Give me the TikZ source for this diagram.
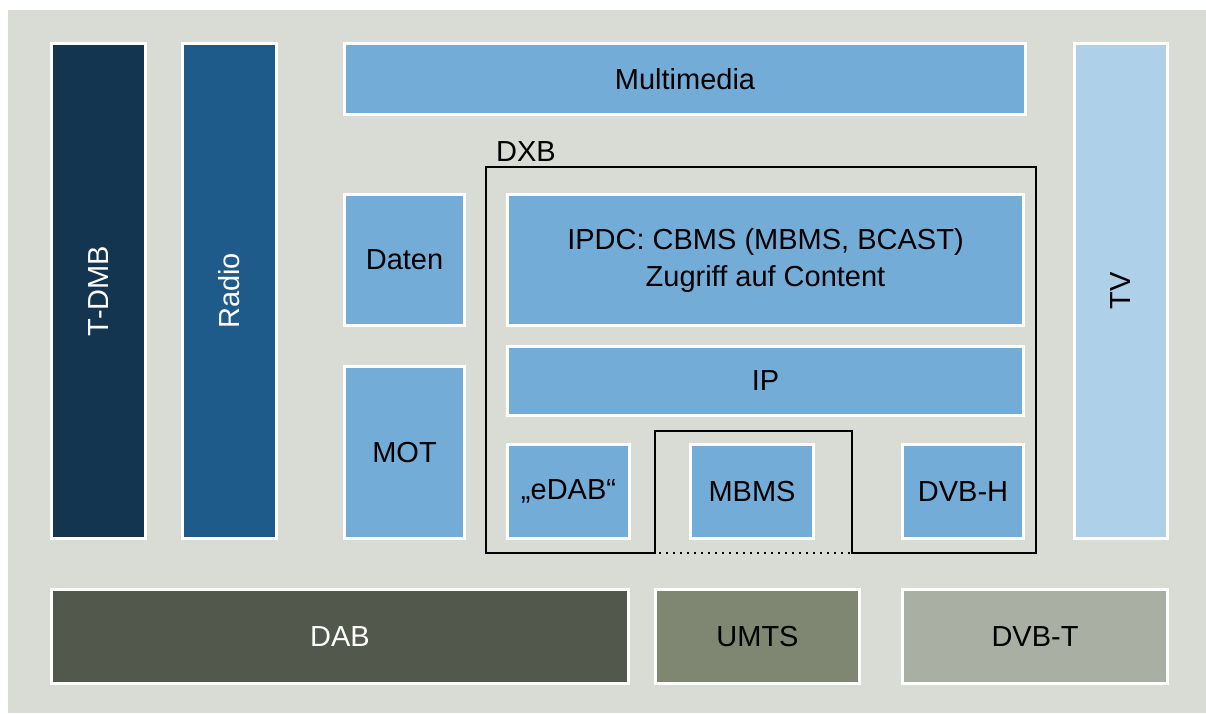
\documentclass[tikz,border=0pt]{standalone}
\usepackage{fontspec}
\setmainfont{Liberation Sans}
\definecolor{bgc}{HTML}{D9DBD5}
\definecolor{navy}{HTML}{143550}
\definecolor{midblue}{HTML}{1F5B8A}
\definecolor{skyblue}{HTML}{74ACD8}
\definecolor{paleblue}{HTML}{AED0E9}
\definecolor{darkolive}{HTML}{52584B}
\definecolor{midolive}{HTML}{7F8672}
\definecolor{lightolive}{HTML}{AAAFA4}
\tikzset{
  blk/.style={draw=white, line width=3pt, inner sep=0pt, outer sep=0pt,
    align=center, font=\fontsize{29}{37}\selectfont},
  vtext/.style={rotate=90},
}
% block from corner (x1,y1) to (x2,y2), pixel-like units, y downward
\newcommand{\blkat}[7]{%
  \pgfmathsetmacro{\bw}{#4-#2-3}\pgfmathsetmacro{\bh}{#5-#3-3}%
  \node[blk, #6, minimum width=\bw pt, minimum height=\bh pt]
    (#1) at ({(#2+#4)/2},{(#3+#5)/2}) {#7};}
\begin{document}
\begin{tikzpicture}[x=1pt,y=-1pt]
\useasboundingbox (0,0) rectangle (1206,713);
\fill[bgc] (8,10) rectangle (1206,713);

% vertical columns
\blkat{tdmb}{50}{42}{147}{540}{fill=navy, text=white}{\rotatebox{90}{T-DMB}}
\blkat{radio}{181}{42}{278}{540}{fill=midblue, text=white}{\rotatebox{90}{Radio}}
\blkat{tv}{1073}{42}{1169}{540}{fill=paleblue}{\rotatebox{90}{TV}}

% services
\blkat{mm}{343}{42}{1027}{116}{fill=skyblue}{Multimedia}
\blkat{daten}{343}{193}{466}{327}{fill=skyblue}{Daten}
\blkat{mot}{343}{365}{466}{540}{fill=skyblue}{MOT}

% DXB stack
\blkat{ipdc}{506}{193}{1025}{327}{fill=skyblue}{IPDC: CBMS (MBMS, BCAST)\\Zugriff auf Content}
\blkat{ip}{506}{345}{1025}{417}{fill=skyblue}{IP}
\blkat{edab}{506}{443}{631}{540}{fill=skyblue}{„eDAB“}
\blkat{mbms}{689}{443}{815}{540}{fill=skyblue}{MBMS}
\blkat{dvbh}{901}{443}{1025}{540}{fill=skyblue}{DVB-H}

% transport layer
\blkat{dab}{50}{588}{630}{685}{fill=darkolive, text=white}{DAB}
\blkat{umts}{654}{588}{861}{685}{fill=midolive}{UMTS}
\blkat{dvbt}{901}{588}{1169}{685}{fill=lightolive}{DVB-T}

% DXB outline with the MBMS notch
\draw[line width=2.5pt, line join=miter]
  (655,553) -- (486,553) -- (486,167) -- (1036,167) -- (1036,553) -- (852,553)
  -- (852,431) -- (655,431) -- cycle;
\draw[bgc, line width=3pt] (657,553) -- (850,553);
\draw[line width=2pt, dash pattern=on 2pt off 5pt] (659,553) -- (850,553);
\node[anchor=base west, inner sep=0pt, font=\fontsize{29}{34}\selectfont] (dxb) at (496,161) {DXB};
\end{tikzpicture}
\end{document}
